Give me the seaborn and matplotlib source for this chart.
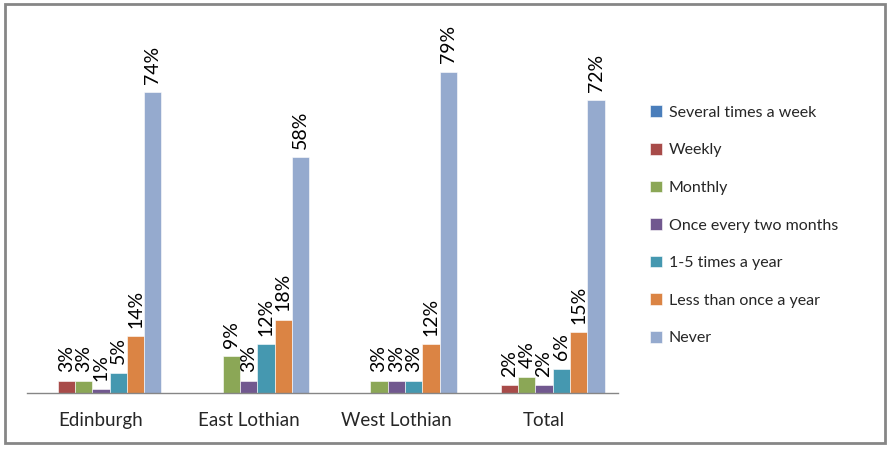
import pandas as pd
import numpy as np
import seaborn as sns
import matplotlib.pyplot as plt
from matplotlib.patches import Rectangle

# Data (percent)
areas = ['Edinburgh', 'East Lothian', 'West Lothian', 'Total']
frequencies = ['Several times a week', 'Weekly', 'Monthly', 'Once every two months',
               '1-5 times a year', 'Less than once a year', 'Never']
several_times_a_week = [0, 0, 0, 0]
weekly = [3, 0, 0, 2]
monthly = [3, 9, 3, 4]
once_every_two_months = [1, 3, 3, 2]
one_to_five_a_year = [5, 12, 3, 6]
less_than_once_a_year = [14, 18, 12, 15]
never = [74, 58, 79, 72]

colors = ['#4A7EBB', '#A84B49', '#8BA756', '#71588F', '#4598B0', '#DB8444', '#95AACE']

series = [several_times_a_week, weekly, monthly, once_every_two_months,
          one_to_five_a_year, less_than_once_a_year, never]
rows = []
for freq, vals in zip(frequencies, series):
    for area, v in zip(areas, vals):
        rows.append((area, freq, v))
df = pd.DataFrame(rows, columns=['Area', 'Frequency', 'Percent'])

sns.set_style('white')
plt.rcParams['font.family'] = ['Lato', 'DejaVu Sans']

fig = plt.figure(figsize=(8.9, 4.49), dpi=100)
ax = fig.add_axes([27 / 890, 1 - 393 / 449, (618 - 27) / 890, 366 / 449])

sns.barplot(data=df, x='Area', y='Percent', hue='Frequency', order=areas,
            hue_order=frequencies, palette=colors, saturation=1, width=0.82, gap=0,
            edgecolor='white', linewidth=0.4, legend=True, ax=ax)

ax.set_ylim(0, 90)
ax.set_xlim(-0.5, 3.5)

# data labels, skip zeros
for cont in ax.containers:
    labels = [f'{b.get_height():.0f}%' if b.get_height() > 0 else '' for b in cont]
    ax.bar_label(cont, labels=labels, rotation=90, padding=6, fontsize=14, color='black')

for s in ['left', 'top', 'right']:
    ax.spines[s].set_visible(False)
ax.spines['bottom'].set_color('#868686')
ax.spines['bottom'].set_linewidth(1)
ax.set_yticks([])
ax.set_xlabel('')
ax.set_ylabel('')
ax.set_xticks(range(len(areas)))
ax.set_xticklabels(areas, fontsize=13.5)
ax.set_xticks(np.arange(-0.5, len(areas)), minor=True)
ax.tick_params(axis='x', which='major', length=0, pad=14)
ax.tick_params(axis='x', which='minor', length=7, color='#868686', width=1, direction='out')

handles, labels = ax.get_legend_handles_labels()
ax.legend(handles, labels, loc='upper left', bbox_to_anchor=(636 / 890, 1 - 91 / 449),
          bbox_transform=fig.transFigure, frameon=False, fontsize=11.5,
          labelspacing=1.45, handlelength=0.75, handleheight=0.75, handletextpad=0.4)

fig.patches.append(Rectangle((5 / 890, 1 - 443 / 449), 880 / 890, 439 / 449,
                             transform=fig.transFigure, fill=False,
                             edgecolor='#868686', linewidth=2))

fig.savefig('out.png', dpi=100)
